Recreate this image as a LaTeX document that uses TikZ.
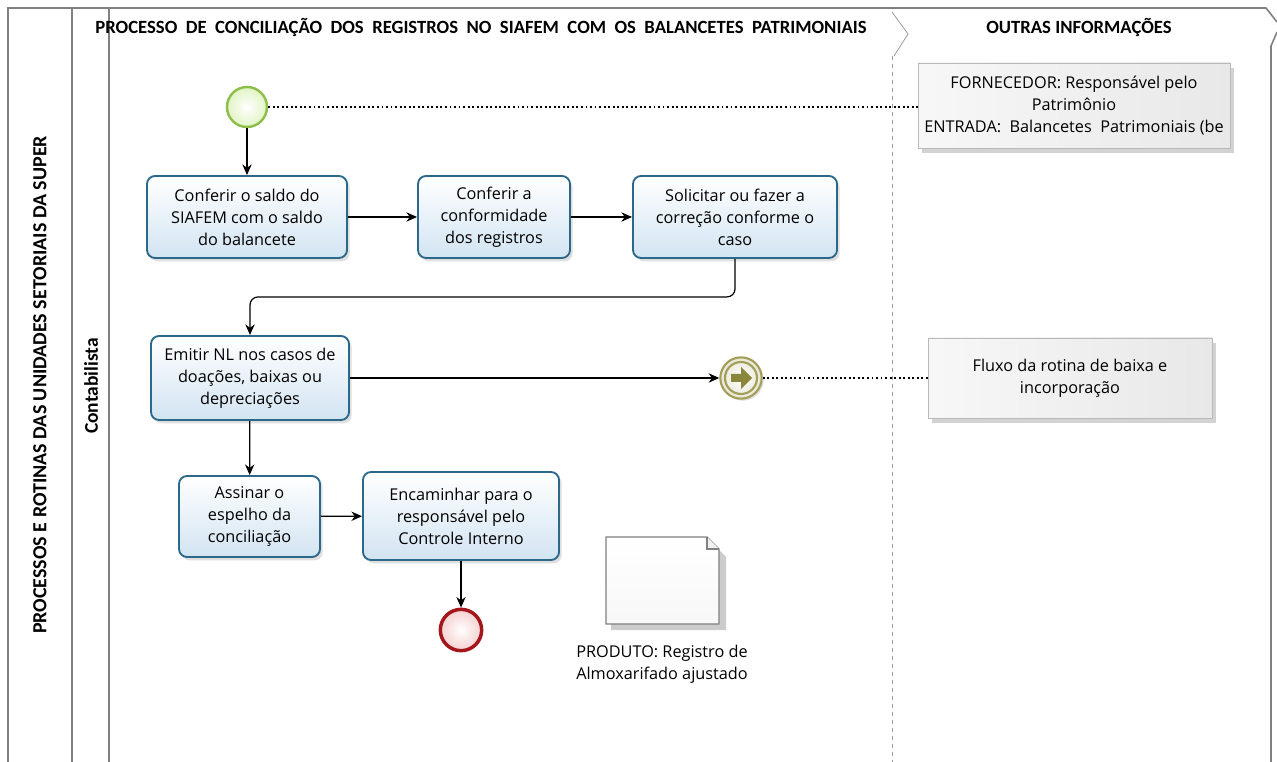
\documentclass[tikz,border=0pt]{standalone}
\usepackage{fontspec}
\setmainfont{Open Sans}
\newfontfamily\titulofont{Carlito}
\usetikzlibrary{arrows.meta,shadows}

\definecolor{moldura}{RGB}{128,128,128}
\definecolor{tarefaborda}{RGB}{44,104,138}
\definecolor{tarefafundo}{RGB}{210,228,242}
\definecolor{verdeborda}{RGB}{141,190,74}
\definecolor{verdefundo}{RGB}{226,244,196}
\definecolor{vermelhoborda}{RGB}{163,22,27}
\definecolor{vermelhofundo}{RGB}{246,208,208}
\definecolor{oliva}{RGB}{163,158,90}
\definecolor{olivaescuro}{RGB}{138,134,58}

\begin{document}
\begin{tikzpicture}[x=0.75pt,y=0.75pt,yscale=-1,xscale=1,
  texto/.style={font=\fontsize{12.2}{16.5}\selectfont, align=center},
  tarefa/.style={texto, draw=tarefaborda, line width=1.4pt, rounded corners=6pt,
    top color=white, bottom color=tarefafundo, inner sep=2pt,
    drop shadow={shadow xshift=2pt, shadow yshift=-2.5pt, opacity=.25}},
  nota/.style={texto, draw=gray!55, line width=.6pt, left color=gray!6, right color=gray!18,
    inner sep=2pt, drop shadow={shadow xshift=3pt, shadow yshift=-4pt, opacity=.35}},
  seta/.style={-{Stealth[length=8pt,width=7pt]}, line width=.9pt},
  pontilhado/.style={dotted, line width=1.4pt},
  titulo/.style={font=\titulofont\bfseries\fontsize{14}{16}\selectfont}
]
\useasboundingbox (0,0) rectangle (1277,762);

% moldura da piscina
\draw [moldura, line width=1.2pt] (8,762) -- (8,8) -- (1266,8) -- (1277,22) ;
\draw [moldura, line width=1.2pt] (1277,32) -- (1271,46) -- (1271,762) ;
\draw [moldura, line width=1.2pt] (72,8) -- (72,762) ;
\draw [moldura, line width=1.2pt] (109,8) -- (109,762) ;
% separador das outras informacoes
\draw [moldura!80, line width=.6pt] (892,12) -- (908,34) -- (894,56) ;
\draw [moldura!80, line width=.6pt, dashed] (892,56) -- (892,762) ;

% Titulos
\node (piscina) [titulo, rotate=90, font=\titulofont\bfseries\fontsize{15}{16}\selectfont] at (40,385) {PROCESSOS E ROTINAS DAS UNIDADES SETORIAIS DA SUPER};
\node (raia) [titulo, rotate=90, font=\titulofont\bfseries\fontsize{14.6}{16}\selectfont] at (91,386) {Contabilista};
\node (processo) [titulo] at (481,27) {PROCESSO\ \ DE\ \ CONCILIAÇÃO\ \ DOS\ \ REGISTROS\ \ NO\ \ SIAFEM\ \ COM\ \ OS\ \ BALANCETES\ \ PATRIMONIAIS};
\node (outras) [titulo] at (1079,27) {OUTRAS INFORMAÇÕES};

% Eventos
\node (inicio) [circle, minimum size=30pt, draw=verdeborda, line width=1.8pt,
  inner color=white, outer color=verdefundo] at (247,107) {};
\node (link) [circle, minimum size=31pt, draw=oliva, line width=1.6pt,
  inner color=white, outer color=oliva!25, drop shadow={shadow xshift=1.5pt, shadow yshift=-1.5pt, opacity=.25}] at (741,378) {};
\draw [oliva, line width=1.6pt] (link.center) circle [radius=16];
\fill [olivaescuro, shift={(link.center)}] (-10,-4) -- (0,-4) -- (0,-11) -- (11,0) -- (0,11) -- (0,4) -- (-10,4) -- cycle;
\node (fim) [circle, minimum size=31pt, draw=vermelhoborda, line width=2.6pt,
  inner color=white, outer color=vermelhofundo] at (461,630) {};

% Tarefas
\node (conferir) [tarefa, minimum width=150pt, minimum height=61.5pt] at (247,217) {Conferir o saldo do\\SIAFEM com o saldo\\do balancete};
\node (conformidade) [tarefa, minimum width=114pt, minimum height=61.5pt] at (494,217) {Conferir a\\conformidade\\dos registros};
\node (correcao) [tarefa, minimum width=153pt, minimum height=61.5pt] at (735,217) {Solicitar ou fazer a\\correção conforme o\\caso};
\node (emitir) [tarefa, minimum width=148.5pt, minimum height=63pt] at (250,378) {Emitir NL nos casos de\\doações, baixas ou\\depreciações};
\node (assinar) [tarefa, minimum width=105.75pt, minimum height=60.75pt] at (249.5,516.5) {Assinar o\\espelho da\\conciliação};
\node (encaminhar) [tarefa, minimum width=147pt, minimum height=66pt] at (461,516) {Encaminhar para o\\responsável pelo\\Controle Interno};

% Anotacoes
\node (notaforn) [nota, minimum width=234pt, minimum height=63.75pt] at (1074,105.5) {FORNECEDOR: Responsável pelo\\Patrimônio\\ENTRADA:\ \ Balancetes\ \ Patrimoniais\ (be};
\node (notafluxo) [nota, minimum width=213pt, minimum height=60pt] at (1070,378) {Fluxo da rotina de baixa e\\incorporação};

% Artefato
\fill [black, opacity=.2] (611,543) -- (712,543) -- (726,557) -- (726,630) -- (611,630) -- cycle;
\draw [gray, line width=.9pt, top color=white, bottom color=gray!6] (606,537) -- (707,537) -- (719,549) -- (719,624) -- (606,624) -- cycle;
\draw [gray, line width=.9pt, fill=gray!12] (707,537) -- (707,549) -- (719,549) ;
\node (produto) [texto] at (662,664) {PRODUTO: Registro de\\Almoxarifado ajustado};

% Conectores
\draw [seta] (inicio) -- (inicio |- conferir.north);
\draw [seta] (conferir) -- (conformidade);
\draw [seta] (conformidade) -- (correcao);
\draw [seta, rounded corners=6pt] (correcao.south) -- ++(0,38) -| (emitir.north);
\draw [seta] (emitir) -- (link);
\draw [seta] (emitir) -- (assinar);
\draw [seta] (assinar) -- (encaminhar);
\draw [seta] (encaminhar) -- (fim);
\draw [pontilhado] (inicio) -- (inicio -| notaforn.west);
\draw [pontilhado] (link) -- (notafluxo);

\end{tikzpicture}
\end{document}
